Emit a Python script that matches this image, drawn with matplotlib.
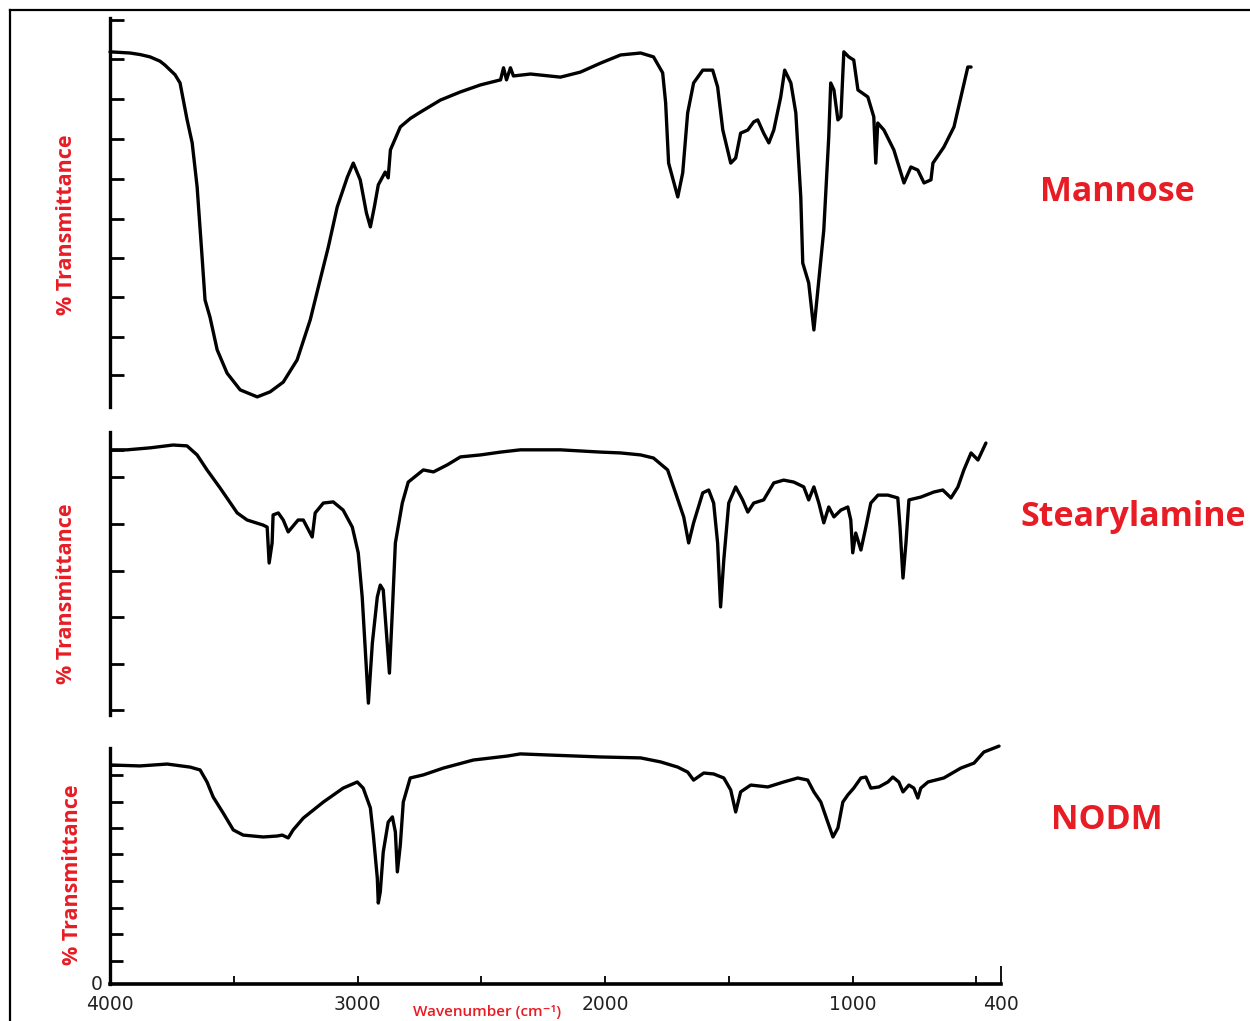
import matplotlib
matplotlib.use("Agg")
import matplotlib.pyplot as plt
from matplotlib.lines import Line2D
import numpy as np

plt.rcParams['font.family'] = ['Open Sans', 'DejaVu Sans']

RED = '#e81c24'

# ---------------- data (wavenumber cm-1, % transmittance) ----------------
mannose_wn = [4000, 3919, 3878, 3838, 3798, 3778, 3737, 3717, 3689, 3668, 3648, 3628, 3616, 3596,
              3567, 3527, 3474, 3405, 3353, 3300, 3244, 3191, 3151, 3118, 3082, 3041, 3017, 2989,
              2964, 2948, 2932, 2916, 2888, 2876, 2867, 2827, 2786, 2746, 2665, 2584, 2503, 2422,
              2410, 2398, 2382, 2370, 2301, 2180, 2099, 2018, 1937, 1856, 1804, 1767, 1755, 1743,
              1706, 1686, 1666, 1642, 1605, 1565, 1545, 1524, 1492, 1472, 1452, 1423, 1399, 1383,
              1359, 1338, 1318, 1290, 1274, 1249, 1229, 1209, 1201, 1177, 1156, 1140, 1116, 1096,
              1088, 1075, 1059, 1047, 1035, 1015, 995, 978, 938, 914, 906, 898, 873, 833, 792,
              764, 736, 711, 683, 675, 631, 590, 562, 534, 521]
mannose_t = [91.3, 91.0, 90.6, 90.0, 88.9, 87.9, 85.4, 83.3, 74.0, 67.9, 56.6, 38.6, 27.5, 23.1,
             14.7, 8.7, 4.4, 2.6, 3.9, 6.4, 12.1, 22.4, 32.7, 41.1, 51.4, 59.1, 62.7, 58.4,
             49.9, 46.3, 51.4, 57.1, 60.4, 58.9, 66.1, 72.0, 74.2, 75.8, 78.9, 81.0, 82.8, 84.1,
             87.2, 84.1, 87.2, 85.1, 85.6, 84.8, 86.1, 88.4, 90.5, 91.0, 90.0, 85.9, 78.2, 62.7,
             54.0, 60.2, 75.6, 83.3, 86.6, 86.6, 82.3, 71.2, 62.7, 64.0, 70.4, 71.2, 73.3, 73.8,
             70.4, 67.9, 71.2, 79.7, 86.6, 83.3, 75.6, 54.0, 37.0, 31.9, 19.8, 30.1, 45.5, 69.4,
             83.3, 81.5, 73.8, 74.6, 91.3, 90.0, 89.2, 81.5, 79.7, 74.6, 62.7, 73.0, 71.2, 66.1,
             57.6, 61.7, 60.9, 57.6, 58.4, 62.7, 66.8, 72.0, 79.7, 87.4, 87.4]

stearyl_wn = [3992, 3931, 3838, 3745, 3689, 3648, 3608, 3555, 3486, 3446, 3381, 3365, 3357, 3345,
              3341, 3320, 3300, 3280, 3240, 3219, 3183, 3171, 3138, 3098, 3058, 3021, 2997, 2981,
              2956, 2940, 2920, 2908, 2896, 2880, 2871, 2859, 2847, 2819, 2795, 2734, 2693, 2637,
              2584, 2503, 2422, 2342, 2180, 2018, 1937, 1856, 1804, 1747, 1715, 1682, 1662, 1642,
              1605, 1581, 1561, 1545, 1533, 1520, 1500, 1472, 1444, 1423, 1399, 1359, 1318, 1278,
              1237, 1197, 1177, 1156, 1136, 1116, 1096, 1075, 1047, 1019, 1007, 999, 987, 966,
              946, 926, 897, 857, 817, 808, 796, 784, 772, 724, 671, 635, 602, 574, 550, 521,
              493, 461]
stearyl_t = [93.7, 93.7, 94.4, 95.4, 95.1, 91.9, 86.6, 80.2, 71.4, 68.9, 67.1, 66.4, 53.7, 60.8,
             70.7, 71.4, 68.9, 64.7, 68.9, 68.9, 62.9, 71.4, 74.9, 75.3, 72.4, 66.4, 57.3, 41.7,
             4.2, 25.4, 41.7, 45.9, 44.2, 25.4, 14.8, 37.1, 60.8, 74.9, 82.3, 86.6, 85.9, 88.4,
             91.2, 91.9, 92.9, 93.7, 93.7, 92.9, 92.6, 91.9, 90.8, 86.6, 78.5, 70.0, 60.8, 67.9,
             78.5, 79.5, 74.9, 60.8, 38.2, 54.8, 74.9, 80.6, 76.0, 71.7, 74.9, 76.0, 82.0, 83.0,
             82.3, 80.6, 76.0, 80.6, 74.9, 67.9, 73.5, 70.0, 72.4, 73.5, 68.9, 57.3, 64.3, 58.3,
             66.4, 74.9, 77.7, 77.7, 76.7, 66.4, 48.4, 60.8, 76.0, 77.0, 78.8, 79.5, 76.7, 80.6,
             86.6, 92.6, 90.1, 96.1]

nodm_wn = [3997, 3879, 3769, 3676, 3636, 3608, 3583, 3543, 3502, 3462, 3381, 3325, 3304, 3280,
           3260, 3219, 3138, 3058, 3001, 2977, 2948, 2936, 2920, 2916, 2908, 2896, 2876, 2859,
           2847, 2839, 2827, 2815, 2787, 2734, 2653, 2532, 2394, 2342, 2220, 2018, 1856, 1775,
           1706, 1666, 1642, 1601, 1561, 1520, 1492, 1472, 1452, 1411, 1342, 1278, 1221, 1181,
           1156, 1128, 1100, 1079, 1059, 1039, 1019, 995, 966, 946, 926, 893, 857, 837, 813,
           796, 772, 752, 736, 724, 695, 631, 562, 509, 469, 408]
nodm_t = [92.8, 92.4, 93.2, 91.9, 90.7, 85.6, 79.2, 72.5, 65.3, 63.1, 62.3, 62.7, 63.1, 61.9,
          65.3, 70.3, 77.1, 83.0, 85.6, 83.0, 74.6, 63.1, 44.9, 34.3, 39.0, 55.9, 68.6, 70.8,
          64.4, 47.5, 58.9, 77.1, 87.3, 88.6, 91.5, 94.9, 96.6, 97.5, 97.0, 96.2, 95.8, 94.1,
          91.9, 89.8, 86.4, 89.4, 89.0, 87.3, 82.2, 72.9, 81.4, 84.3, 83.5, 85.6, 87.3, 86.4,
          81.4, 77.1, 68.6, 62.3, 66.1, 77.1, 80.1, 83.0, 87.3, 87.7, 83.0, 83.5, 85.6, 87.7, 85.6,
          81.4, 84.3, 83.0, 78.8, 83.0, 85.6, 87.3, 91.5, 93.6, 98.3, 100.8]

sample_names = ['Mannose', 'Stearylamine', 'NODM']
ytick_sets = [
    [8.2, 18.0, 28.3, 38.3, 48.3, 58.6, 68.9, 79.2, 89.5, 99.5],
    [1.8, 18.0, 34.6, 50.9, 67.5, 84.1, 93.7],
    [9.7, 21.2, 32.2, 43.6, 55.1, 66.1, 77.1, 88.6, 92.8],
]
xtick_major = [4000, 3500, 3000, 2500, 2000, 1500, 1000, 500]
xtick_labels = ['4000', '', '3000', '', '2000', '', '1000', '']
xtick_end = [400]
xtick_end_labels = ['400']

# ---------------- layout ----------------
W, H = 1250, 1021
fig = plt.figure(figsize=(W / 100, H / 100), dpi=100)

def fx(px):
    return px / W

def fy(py):
    return 1 - py / H

panels = [  # (top_px, bottom_px)
    (18, 407),
    (432, 715),
    (748, 984),
]
series = [(mannose_wn, mannose_t), (stearyl_wn, stearyl_t), (nodm_wn, nodm_t)]
axes = []
for i, ((top, bot), (wn, tt)) in enumerate(zip(panels, series)):
    ax = fig.add_axes([fx(110), fy(bot), fx(1001) - fx(110), (bot - top) / H])
    ax.set_xlim(4000, 400)
    ax.set_ylim(0, 100)
    ax.patch.set_alpha(0)
    ax.plot(wn, tt, color='black', lw=2.4, solid_joinstyle='round', solid_capstyle='round',
            clip_on=False)
    for s in ['top', 'right', 'bottom']:
        ax.spines[s].set_visible(False)
    ax.spines['left'].set_linewidth(2.4)
    ax.set_yticks(ytick_sets[i])
    ax.set_yticklabels([])
    ax.tick_params(axis='y', direction='in', length=10 if i < 2 else 9.5, width=2.0)
    if i < 2:
        ax.set_xticks([])
    axes.append(ax)

axb = axes[2]
axb.spines['bottom'].set_visible(True)
axb.spines['bottom'].set_linewidth(2.6)
axb.set_xticks(xtick_major)
axb.set_xticklabels(xtick_labels, fontsize=13.5, color='#222222', family=['DejaVu Sans'])
axb.set_xticks(xtick_end, minor=True)
axb.set_xticklabels(xtick_end_labels, minor=True, fontsize=13.5, color='#222222', family=['DejaVu Sans'])
axb.tick_params(axis='x', which='major', direction='in', length=6, width=1.3, pad=8)
axb.tick_params(axis='x', which='minor', direction='in', length=13, width=1.3, pad=8)

# y-axis labels
ylab_pos = [(67, 225), (67, 594), (72, 875)]
for (x, y) in ylab_pos:
    fig.text(fx(x), fy(y), '% Transmittance', rotation=90, color=RED, fontsize=15.5,
             fontweight='bold', ha='center', va='center')

# sample names
name_pos = [(1117, 192), (1133, 517), (1107, 820)]
for name, (x, y) in zip(sample_names, name_pos):
    fig.text(fx(x), fy(y), name, color=RED, fontsize=24.5, fontweight='bold',
             ha='center', va='center')

fig.text(fx(487), fy(1012), 'Wavenumber (cm\u207b\u00b9)', color=RED, fontsize=11,
         fontweight='semibold', ha='center', va='center')
fig.text(fx(97), fy(985), '0', color='#222222', fontsize=13.5, ha='center', va='center',
         family=['DejaVu Sans'])

# outer frame (left and top edges)
fig.add_artist(Line2D([fx(10), fx(10)], [fy(10), 0], transform=fig.transFigure, color='black', lw=1.6))
fig.add_artist(Line2D([fx(10), 1], [fy(10), fy(10)], transform=fig.transFigure, color='black', lw=1.6))

fig.savefig('out.png', dpi=100, facecolor='white')
